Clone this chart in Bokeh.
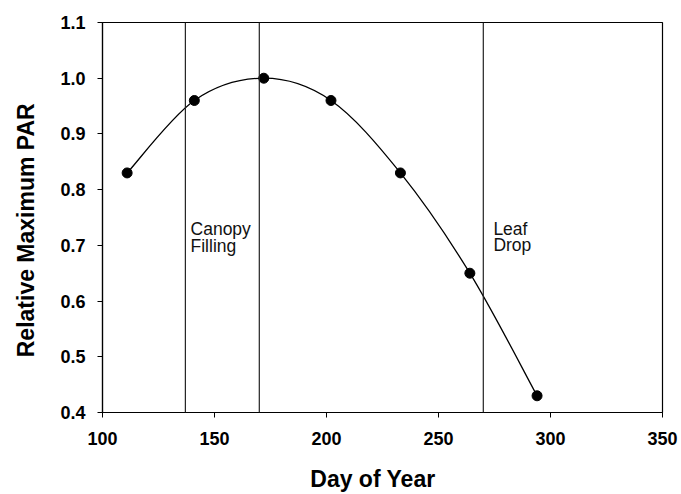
from bokeh.plotting import figure
from bokeh.models import Span, Range1d, PrintfTickFormatter, ColumnDataSource
from bokeh.core.properties import value
from bokeh.embed import file_html
from bokeh.resources import INLINE

# Relative maximum PAR through the growing season
days = [111, 141, 172, 202, 233, 264, 294]
rel_par = [0.83, 0.96, 1.00, 0.96, 0.83, 0.65, 0.43]

# Canopy phase boundaries (day of year)
phase_days = [137, 170, 270]

x_ticks = [100, 150, 200, 250, 300, 350]
y_ticks = [0.4, 0.5, 0.6, 0.7, 0.8, 0.9, 1.0, 1.1]

FONT = "Liberation Sans"

p = figure(width=681, height=494, x_range=Range1d(100, 350), y_range=Range1d(0.4, 1.1),
           output_backend="svg", toolbar_location=None,
           min_border_left=102, min_border_right=19, min_border_top=22, min_border_bottom=82)

p.xgrid.visible = False
p.ygrid.visible = False
p.outline_line_color = "black"
p.outline_line_width = 1.2
p.background_fill_color = "white"
p.border_fill_color = "white"

for ax in (p.xaxis[0], p.yaxis[0]):
    ax.minor_tick_line_color = None
    ax.major_tick_in = 0
    ax.major_tick_out = 5
    ax.axis_line_color = "black"
    ax.axis_line_width = 1.2
    ax.major_tick_line_color = "black"
    ax.major_label_text_font = FONT
    ax.major_label_text_font_style = "bold"
    ax.major_label_text_font_size = "18px"
    ax.major_label_text_color = "black"
    ax.axis_label_text_font = FONT
    ax.axis_label_text_font_style = "bold"
    ax.axis_label_text_font_size = "23px"
    ax.axis_label_text_color = "black"

p.xaxis.ticker = x_ticks
p.yaxis.ticker = y_ticks
p.yaxis.formatter = PrintfTickFormatter(format="%.1f")
# trailing no-break spaces nudge the axis titles off the frame centre
p.xaxis.axis_label = "Day of Year" + "\u00a0" * 3
p.yaxis.axis_label = "Relative Maximum PAR" + "\u00a0" * 4
p.xaxis.major_label_standoff = 14
p.yaxis.major_label_standoff = 12
p.xaxis.axis_label_standoff = 18
p.yaxis.axis_label_standoff = 18

# Phase boundary lines
for d in phase_days:
    p.add_layout(Span(location=d, dimension="height", line_color="#222222", line_width=1.2))

# Smooth curve through the points: Catmull-Rom segments as cubic Beziers
n = len(days)
x0, y0, x1, y1, cx0, cy0, cx1, cy1 = [], [], [], [], [], [], [], []
for i in range(n - 1):
    a = max(i - 1, 0)
    b = min(i + 2, n - 1)
    x0.append(days[i]); y0.append(rel_par[i])
    x1.append(days[i + 1]); y1.append(rel_par[i + 1])
    cx0.append(days[i] + (days[i + 1] - days[a]) / 6)
    cy0.append(rel_par[i] + (rel_par[i + 1] - rel_par[a]) / 6)
    cx1.append(days[i + 1] - (days[b] - days[i]) / 6)
    cy1.append(rel_par[i + 1] - (rel_par[b] - rel_par[i]) / 6)
curve = ColumnDataSource(dict(x0=x0, y0=y0, x1=x1, y1=y1, cx0=cx0, cy0=cy0, cx1=cx1, cy1=cy1))
p.bezier(x0="x0", y0="y0", x1="x1", y1="y1", cx0="cx0", cy0="cy0", cx1="cx1", cy1="cy1",
         source=curve, line_color="black", line_width=1.3)

p.scatter(days, rel_par, size=10, color="black")

# Phase annotations
p.text(x=[139.3, 139.3], y=[0.729, 0.698], text=["Canopy", "Filling"],
       text_font=value(FONT), text_font_size="17.5px", text_color="#111111",
       text_baseline="alphabetic", text_align="left")
p.text(x=[274.5, 274.5], y=[0.729, 0.700], text=["Leaf", "Drop"],
       text_font=value(FONT), text_font_size="17.5px", text_color="#111111",
       text_baseline="alphabetic", text_align="left")

open("out.html", "w").write(file_html(p, INLINE))
